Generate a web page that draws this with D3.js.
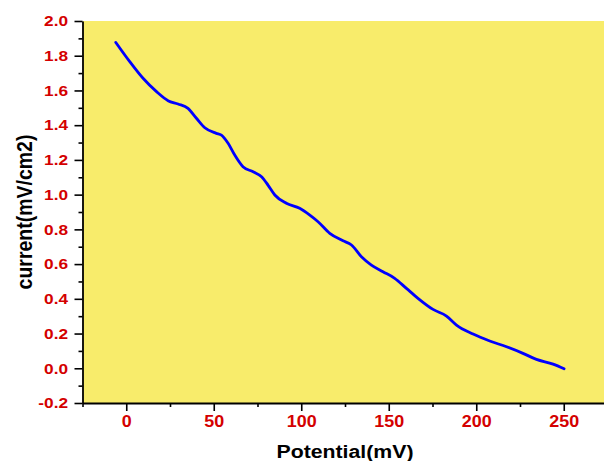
<!DOCTYPE html>
<html>
<head>
<meta charset="utf-8">
<script src="https://cdn.jsdelivr.net/npm/d3@7"></script>
<style>
  html, body { margin: 0; padding: 0; background: #fff; }
  svg { display: block; }
</style>
</head>
<body>
<svg id="chart" width="604" height="461"></svg>
<script>
// ---- data ----
const potential = [-6.0, 2.0, 9.6, 17.3, 23.9, 29.6, 35.3, 40.1, 44.9, 51.5, 54.4, 58.2, 62.0, 66.7, 72.5, 77.3, 81.0, 84.9, 91.5, 99.1, 104.9, 109.6, 116.3, 123.9, 128.7, 134.4, 140.1, 146.7, 153.4, 160.1, 166.7, 175.3, 183.0, 188.7, 198.2, 207.7, 217.3, 226.7, 234.4, 243.9, 250.2];
const current = [1.877, 1.766, 1.670, 1.593, 1.541, 1.522, 1.497, 1.440, 1.385, 1.353, 1.343, 1.296, 1.228, 1.161, 1.132, 1.103, 1.055, 0.998, 0.950, 0.921, 0.882, 0.844, 0.777, 0.734, 0.710, 0.642, 0.594, 0.556, 0.518, 0.460, 0.403, 0.339, 0.301, 0.249, 0.197, 0.157, 0.124, 0.086, 0.051, 0.024, -0.003];
const xTicks = [0, 50, 100, 150, 200, 250];
const yTicks = [-0.2, 0.0, 0.2, 0.4, 0.6, 0.8, 1.0, 1.2, 1.4, 1.6, 1.8, 2.0];
const xTitle = "Potential(mV)";
const yTitle = "current(mV/cm2)";

const svg = d3.select("#chart");
const mLeft = 82.5, mRight = 607.5, mTop = 21, mBottom = 403;

const x = d3.scaleLinear().domain([-25, 275]).range([mLeft, mRight]);
const y = d3.scaleLinear().domain([-0.2, 2.0]).range([mBottom, mTop]);

const red = "#d40000";
const font = "'Liberation Sans', Arial, sans-serif";
const hyphen = s => s.replace("\u2212", "-");

// plot background
svg.append("rect")
  .attr("x", mLeft).attr("y", mTop)
  .attr("width", mRight - mLeft).attr("height", mBottom - mTop)
  .attr("fill", "#f8ec6b");

// minor ticks
const xMinor = d3.range(-25, 276, 50);
const yMinor = d3.range(-0.1, 2.0, 0.2);

const xAxisG = svg.append("g").attr("transform", `translate(0,${mBottom})`);
xAxisG.call(d3.axisBottom(x).tickValues(xTicks).tickSize(8).tickSizeOuter(0).tickFormat(d => hyphen(d3.format("d")(d))));
xAxisG.append("g").call(d3.axisBottom(x).tickValues(xMinor).tickSize(4).tickSizeOuter(0).tickFormat(""))
  .select(".domain").remove();

const yAxisG = svg.append("g").attr("transform", `translate(${mLeft},0)`);
yAxisG.call(d3.axisLeft(y).tickValues(yTicks).tickSize(8).tickSizeOuter(0).tickFormat(d => hyphen(d3.format(".1f")(d))));
yAxisG.append("g").call(d3.axisLeft(y).tickValues(yMinor).tickSize(4).tickSizeOuter(0).tickFormat(""))
  .select(".domain").remove();

svg.selectAll(".domain").attr("stroke", "#000").attr("stroke-width", 1.8);
svg.selectAll(".tick line").attr("stroke", "#000").attr("stroke-width", 1.6);

xAxisG.selectAll(".tick text")
  .attr("fill", red).attr("font-family", font).attr("font-weight", "bold").attr("font-size", 16)
  .attr("y", 13)
  .attr("transform", "scale(1.12,1)");
yAxisG.selectAll(".tick text")
  .attr("fill", red).attr("font-family", font).attr("font-weight", "bold").attr("font-size", 15)
  .attr("x", -12.6)
  .attr("transform", "scale(1.15,1)");

// line
const line = d3.line()
  .x((d, i) => x(potential[i]))
  .y((d, i) => y(current[i]))
  .curve(d3.curveMonotoneX);
svg.append("path")
  .datum(current)
  .attr("d", line)
  .attr("fill", "none")
  .attr("stroke", "#0000ff")
  .attr("stroke-width", 2.8)
  .attr("stroke-linejoin", "round")
  .attr("stroke-linecap", "round");

// titles
svg.append("text")
  .attr("transform", `translate(${(mLeft + mRight) / 2},458) scale(1.15,1)`)
  .attr("text-anchor", "middle")
  .attr("font-family", font).attr("font-weight", "bold").attr("font-size", 18.5)
  .attr("fill", "#000")
  .text(xTitle);

svg.append("text")
  .attr("transform", `translate(32,${(mTop + mBottom) / 2}) scale(1.15,1) rotate(-90)`)
  .attr("text-anchor", "middle")
  .attr("font-family", font).attr("font-weight", "bold").attr("font-size", 19.5)
  .attr("fill", "#000")
  .text(yTitle);
</script>
</body>
</html>
